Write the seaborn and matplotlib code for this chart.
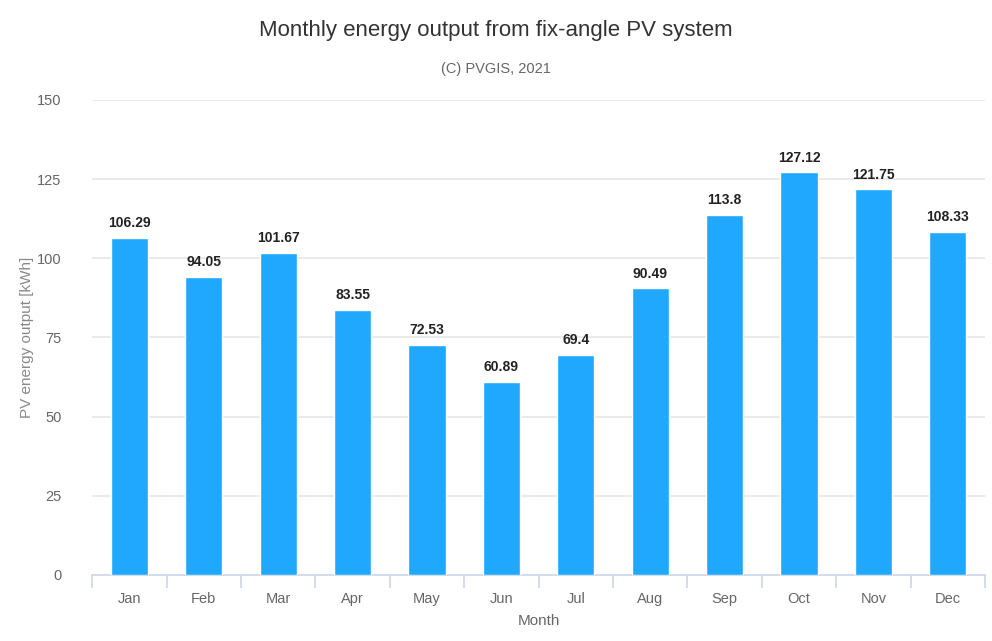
import numpy as np
import pandas as pd
import matplotlib
matplotlib.use('Agg')
import matplotlib.pyplot as plt
import seaborn as sns

months = ['Jan', 'Feb', 'Mar', 'Apr', 'May', 'Jun', 'Jul', 'Aug', 'Sep', 'Oct', 'Nov', 'Dec']
energy = [106.29, 94.05, 101.67, 83.55, 72.53, 60.89, 69.4, 90.49, 113.8, 127.12, 121.75, 108.33]
y_ticks = [0, 25, 50, 75, 100, 125, 150]

BAR_COLOR = '#1fa8fd'
TEXT_GRAY = '#666666'

sns.set_style('white')
plt.rcParams['font.family'] = ['Liberation Sans', 'DejaVu Sans']

df = pd.DataFrame({'Month': months, 'energy': energy})

fig = plt.figure(figsize=(9.92, 6.41), dpi=100)
ax = fig.add_axes([0.093, 0.103, 0.9, 0.741])

sns.barplot(data=df, x='Month', y='energy', color=BAR_COLOR, width=0.5,
            saturation=1, ax=ax, zorder=3)

# etiquetas em cima de cada barra
for i, v in enumerate(energy):
    ax.text(i, v + 2.5, f'{v:g}', ha='center', va='bottom',
            fontsize=10, fontweight='bold', color='#222222')

ax.set_ylim(0, 150)
ax.set_yticks(y_ticks)
ax.set_xlim(-0.5, len(months) - 0.5)
ax.yaxis.grid(True, color='#e8e8e8', linewidth=1.3, zorder=0)
ax.xaxis.grid(False)

for s in ['top', 'right', 'left']:
    ax.spines[s].set_visible(False)
ax.spines['bottom'].set_color('#ccd6eb')
ax.spines['bottom'].set_linewidth(1.2)

ax.tick_params(axis='x', which='major', length=0, pad=12, labelsize=10.5, labelcolor=TEXT_GRAY)
ax.set_xticks(np.arange(-0.5, len(months), 1), minor=True)
ax.tick_params(axis='x', which='minor', bottom=True, length=9, color='#ccd6eb', width=1.2)
ax.tick_params(axis='y', length=0, pad=22, labelsize=10.5, labelcolor=TEXT_GRAY)

ax.set_xlabel('Month', fontsize=11, color=TEXT_GRAY, labelpad=6)
ax.set_ylabel('PV energy output [kWh]', fontsize=11, color='#888888', labelpad=2)

fig.text(0.5, 0.952, 'Monthly energy output from fix-angle PV system',
         ha='center', va='center', fontsize=16, color='#333333')
fig.text(0.5, 0.893, '(C) PVGIS, 2021', ha='center', va='center',
         fontsize=10.5, color=TEXT_GRAY)

fig.savefig('out.png', dpi=100)
